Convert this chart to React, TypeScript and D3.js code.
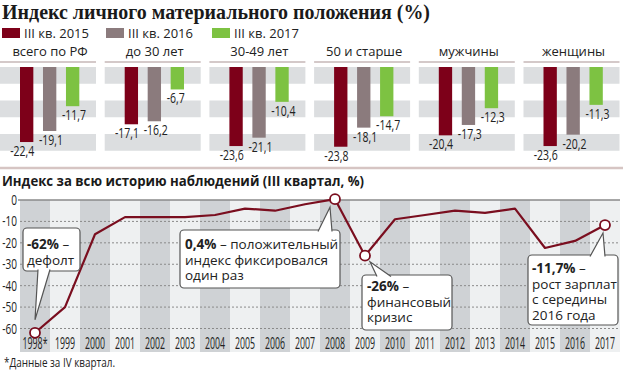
import * as d3 from "d3";
import React from "react";

// --- data ---
const categories = ["всего по РФ", "до 30 лет", "30-49 лет", "50 и старше", "мужчины", "женщины"];
const seriesNames = ["III кв. 2015", "III кв. 2016", "III кв. 2017"];
const q3_2015 = [-22.4, -17.1, -23.6, -23.8, -20.4, -23.6];
const q3_2016 = [-19.1, -16.2, -21.1, -18.1, -17.3, -20.2];
const q3_2017 = [-11.7, -6.7, -10.4, -14.7, -12.3, -11.3];

const years = ["1998*", "1999", "2000", "2001", "2002", "2003", "2004", "2005", "2006", "2007",
  "2008", "2009", "2010", "2011", "2012", "2013", "2014", "2015", "2016", "2017"];
const historyValues = [-62, -50, -16, -8, -8, -8, -7, -4, -5, -2,
  0.4, -26, -9, -7, -5, -6, -4, -22.4, -19.1, -11.7];
const yTicks = [0, -10, -20, -30, -40, -50, -60];
const markedYears = ["1998*", "2008", "2009", "2017"];

const notes = [
  { year: "1998*", bold: "-62%", lines: ["дефолт"] },
  { year: "2008", bold: "0,4%", rest: " – положительный", lines: ["индекс фиксировался", "один раз"] },
  { year: "2009", bold: "-26%", lines: ["финансовый", "кризис"] },
  { year: "2017", bold: "-11,7%", lines: ["рост зарплат", "с середины", "2016 года"] },
];

const colors = ["#7d0019", "#8b7b7d", "#7dc242"];
const lineColor = "#7a0e1f";
const SANS = "'Open Sans', 'DejaVu Sans', sans-serif";

const fmt = (v: number) => d3.format(".1f")(v).replace(".", ",").replace("−", "-");

// condensed text: horizontally squeezed
function CText({ x, y, anchor = "start", sx = 0.7, size = 15, fill = "#222", weight = 400, children }: any) {
  return (
    <text transform={`translate(${x},${y}) scale(${sx},1)`} textAnchor={anchor}
      fontFamily={SANS} fontSize={size} fill={fill} fontWeight={weight}>{children}</text>
  );
}

export default function App() {
  const W = 623, H = 374;

  // top panels
  const panelX = d3.scaleBand<string>().domain(categories).range([2, 2 + 104.7 * 6]).paddingInner(0).paddingOuter(0);
  const barX = d3.scaleBand<string>().domain(seriesNames).range([18, 77.3]).paddingInner(0.42).paddingOuter(0);
  const barY = d3.scaleLinear().domain([0, -25]).range([67, 67 + 25 * 3.35]);
  const bandTicks = [0, -5, -10, -15, -20];
  const seriesVals = [q3_2015, q3_2016, q3_2017];

  // history chart
  const x = d3.scaleBand<string>().domain(years).range([20, 620]).padding(0);
  const y = d3.scaleLinear().domain([0, -60]).range([200, 328.5]);
  const cx = (yr: string) => (x(yr) as number) + x.bandwidth() / 2;
  const line = d3.line<number>()
    .x((_, i) => cx(years[i]))
    .y((d) => y(d));

  const valOf = (yr: string) => historyValues[years.indexOf(yr)];

  // annotation boxes (layout)
  const boxes = [
    { x: 23, y: 228, w: 57, h: 43, base: [38, 50], apexDx: 0, apexDy: -13, top: false, tx: 27, ty: 249 },
    { x: 180, y: 230, w: 160, h: 58, base: [318, 332], apexDx: -5, apexDy: 8, top: true, tx: 185, ty: 249 },
    { x: 362, y: 275, w: 90, h: 55, base: [377, 391], apexDx: 5, apexDy: 6, top: true, tx: 367, ty: 291 },
    { x: 528, y: 255, w: 90, h: 70, base: [590, 605], apexDx: -2, apexDy: 8, top: true, tx: 532, ty: 273 },
  ];

  return (
    <svg width={W} height={H} style={{ position: "absolute", left: 0, top: 0, background: "#fff" }}>
      {/* title */}
      <text x={2} y={19} fontFamily="'Liberation Serif', 'DejaVu Serif', serif" fontWeight={700}
        fontSize={21} fill="#1a1a1a" textLength={428} lengthAdjust="spacingAndGlyphs">
        Индекс личного материального положения (%)
      </text>

      {/* legend */}
      {seriesNames.map((s, i) => (
        <g key={s} transform={`translate(${[2, 106, 212][i]},28)`}>
          <rect width={18} height={10} fill={colors[i]} />
          <text x={22} y={10} fontFamily={SANS} fontSize={13} fill="#222">{s}</text>
        </g>
      ))}

      {/* panels */}
      {categories.map((c, ci) => {
        const px = panelX(c) as number;
        return (
          <g key={c} transform={`translate(${px},0)`}>
            <text x={48} y={56} textAnchor="middle" fontFamily={SANS} fontSize={13} fill="#222">{c}</text>
            <line x1={-2} x2={94} y1={62} y2={62} stroke="#c6b7b7" strokeWidth={1.6} />
            {bandTicks.filter((_, i) => i % 2 === 0).map((t) => (
              <rect key={t} x={-2} width={96} y={barY(t)} height={barY(t - 5) - barY(t)} fill="#dcdee0" />
            ))}
            {seriesNames.map((s, si) => {
              const v = seriesVals[si][ci];
              const bx = barX(s) as number;
              const bw = barX.bandwidth();
              const yb = barY(v);
              return (
                <g key={s}>
                  <rect x={bx} y={barY(0)} width={bw} height={yb - barY(0)} fill={colors[si]} />
                  {si === 0
                    ? <CText x={bx + bw + 1} y={yb + 14} anchor="end">{fmt(v)}</CText>
                    : <CText x={bx - 4} y={yb + 14} anchor="start">{fmt(v)}</CText>}
                </g>
              );
            })}
          </g>
        );
      })}

      {/* separator */}
      <line x1={0} x2={W} y1={168} y2={168} stroke="#d6c5c3" strokeWidth={2.5} />

      {/* history title */}
      <text x={2} y={186} fontFamily={SANS} fontWeight={700} fontSize={15} fill="#1a1a1a"
        textLength={362} lengthAdjust="spacingAndGlyphs">
        Индекс за всю историю наблюдений (III квартал, %)
      </text>

      {/* columns */}
      {years.map((yr, i) => (
        <rect key={yr} x={x(yr)} y={200} width={x.bandwidth()} height={152}
          fill={i % 2 === 0 ? "#cfd2d5" : "#eef0f1"} />
      ))}

      {/* grid */}
      {yTicks.map((t) => (
        <g key={t}>
          {t === 0
            ? <line x1={18} x2={620} y1={y(t)} y2={y(t)} stroke="#8a8a8a" strokeWidth={1.6} />
            : <line x1={20} x2={620} y1={y(t)} y2={y(t)} stroke="#8a8a8a" strokeWidth={1} strokeDasharray="2,2" />}
          <CText x={17} y={y(t) + 5} anchor="end" size={14} sx={0.72}>{t === 0 ? "0" : String(t)}</CText>
        </g>
      ))}

      {/* year labels */}
      {years.map((yr) => (
        <CText key={yr} x={cx(yr)} y={349} anchor="middle" size={16} sx={0.55}>{yr}</CText>
      ))}

      {/* line */}
      <path d={line(historyValues) as string} fill="none" stroke={lineColor} strokeWidth={2.2} strokeLinejoin="round" />
      {markedYears.map((yr) => (
        <circle key={yr} cx={cx(yr)} cy={y(valOf(yr))} r={5} fill="#fff" stroke={lineColor} strokeWidth={1.8} />
      ))}

      {/* annotations */}
      {notes.map((n, i) => {
        const b = boxes[i];
        const ax = cx(n.year) + b.apexDx;
        const ay = y(valOf(n.year)) + b.apexDy;
        const edge = b.top ? b.y + 1.5 : b.y + b.h - 1.5;
        return (
          <g key={n.year}>
            <rect x={b.x} y={b.y} width={b.w} height={b.h} rx={4} fill="#fff" stroke="#555" strokeWidth={1.2} />
            <path d={`M${b.base[0]},${edge} L${ax},${ay} L${b.base[1]},${edge}`} fill="#fff" stroke="#555" strokeWidth={1.2} />
            <text x={b.tx} y={b.ty} fontFamily={SANS} fontSize={13.5} fill="#222">
              <tspan fontWeight={700}>{n.bold}</tspan>
              <tspan>{n.rest ?? " –"}</tspan>
              {n.lines.map((l, li) => (
                <tspan key={li} x={b.tx} dy={15.5}>{l}</tspan>
              ))}
            </text>
          </g>
        );
      })}

      {/* footnote */}
      <text x={4} y={367} fontFamily={SANS} fontSize={12} fill="#222" textLength={111} lengthAdjust="spacingAndGlyphs">
        *Данные за IV квартал.
      </text>
    </svg>
  );
}
